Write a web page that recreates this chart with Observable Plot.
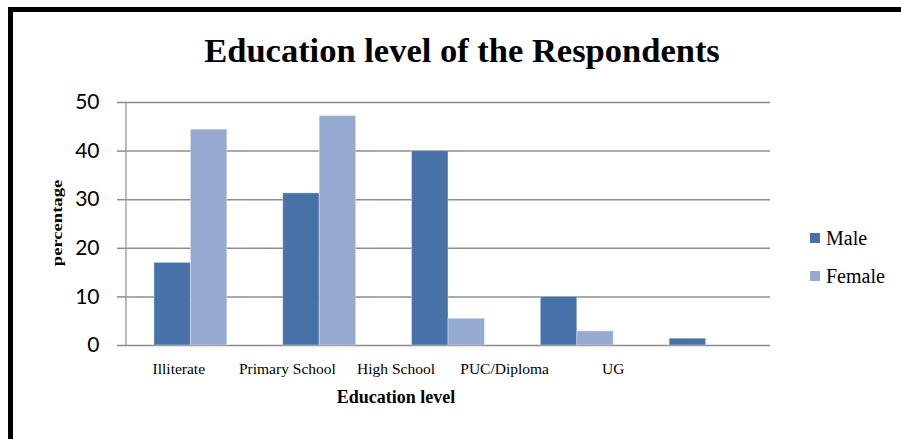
<!DOCTYPE html>
<html>
<head>
<meta charset="utf-8">
<script src="https://cdn.jsdelivr.net/npm/d3@7"></script>
<script src="https://cdn.jsdelivr.net/npm/@observablehq/plot@0.6"></script>
<style>
  html, body { margin: 0; padding: 0; background: #fff; overflow: hidden; }
  #chart { position: relative; width: 901px; height: 439px; overflow: hidden; background: #fff; }
  #border { position: absolute; left: 8px; top: 7px; width: 1000px; height: 1000px; border: 5px solid #000; }
  #plot, #labels { position: absolute; left: 0; top: 0; }
  .serif { font-family: "Liberation Serif", "Times New Roman", serif; color: #000; }
  #title { position: absolute; left: 462px; top: 33px; transform: translateX(-50%); font-size: 34.5px; font-weight: bold; line-height: 1; white-space: nowrap; }
  #xlabel { position: absolute; left: 396px; top: 388px; transform: translateX(-50%); font-size: 18px; font-weight: bold; line-height: 1; white-space: nowrap; }
  #ylabel { position: absolute; left: 57px; top: 223px; transform: translate(-50%, -50%) rotate(-90deg) scaleX(1.24); font-size: 15px; font-weight: bold; line-height: 1; white-space: nowrap; }
  #legend { position: absolute; left: 805px; top: 220px; }
</style>
</head>
<body>
<div id="chart">
  <div id="border"></div>
  <div id="plot"></div>
  <div id="labels"></div>
  <div id="title" class="serif">Education level of the Respondents</div>
  <div id="xlabel" class="serif">Education level</div>
  <div id="ylabel" class="serif">percentage</div>
  <div id="legend"></div>
</div>
<script>
// Share of respondents (%) at each education level, by gender
const categories = ["Illiterate", "Primary School", "High School", "PUC/Diploma", "UG"];
const male = [17.0, 31.3, 40.0, 10.0, 1.4];
const female = [44.4, 47.2, 5.5, 2.9, 0];
const yTicks = [0, 10, 20, 30, 40, 50];
const seriesNames = ["Male", "Female"];
const seriesColors = ["#4672a8", "#95a9d1"];

const rows = categories.map((c, i) => ({category: c, male: male[i], female: female[i]}));

// Layout
const W = 901, H = 439;
const margin = {top: 102, right: 131, bottom: 94, left: 126};
const padInner = 0.434, padOuter = 0.217;
const step = (W - margin.left - margin.right) / (categories.length - padInner + 2 * padOuter);
const half = step * (1 - padInner) / 2; // each gender takes half of a category band

const gridColor = "#8c8c8c";
const serif = "'Liberation Serif', 'Times New Roman', serif";

// Vertical axis line along the left edge of the frame
const leftAxisLine = (index, scales, values, dims) => {
  const l = dims.marginLeft;
  return d3.create("svg:line")
    .attr("x1", l).attr("x2", l)
    .attr("y1", dims.marginTop).attr("y2", dims.height - dims.marginBottom)
    .attr("stroke", "#a6a6a6").attr("stroke-width", 1.5)
    .node();
};

const chart = Plot.plot({
  width: W,
  height: H,
  marginTop: margin.top,
  marginRight: margin.right,
  marginBottom: margin.bottom,
  marginLeft: margin.left,
  style: {background: "transparent", overflow: "visible"},
  x: {domain: categories, paddingInner: padInner, paddingOuter: padOuter, round: false, axis: null},
  y: {domain: [0, 50]},
  marks: [
    Plot.ruleY(yTicks, {stroke: gridColor, strokeWidth: 1.5}),
    leftAxisLine,
    Plot.axisY({
      ticks: yTicks, tickSize: 9, tickPadding: 18,
      stroke: gridColor, strokeWidth: 1.5, fill: "#000",
      fontSize: 21, fontFamily: "Lato, 'Open Sans', sans-serif",
      label: null
    }),
    Plot.barY(rows, {x: "category", y: "male", fill: seriesColors[0], insetRight: half,
      stroke: "#ffffff", strokeOpacity: 0.35, strokeWidth: 1}),
    Plot.barY(rows, {x: "category", y: "female", fill: seriesColors[1], insetLeft: half,
      stroke: "#ffffff", strokeOpacity: 0.35, strokeWidth: 1})
  ]
});
document.getElementById("plot").appendChild(chart);

// Category labels sit on their own evenly spaced band axis, narrower than the bars' frame
const labelAxis = Plot.plot({
  width: W,
  height: H,
  marginTop: margin.top,
  marginRight: 234,
  marginBottom: margin.bottom,
  marginLeft: 124,
  style: {background: "transparent", overflow: "visible"},
  x: {type: "band", domain: categories, padding: 0, round: false},
  marks: [
    Plot.axisX({
      tickSize: 0, tickPadding: 17,
      fill: "#000", fontSize: 15.5, fontFamily: serif,
      label: null
    })
  ]
});
document.getElementById("labels").appendChild(labelAxis);

// Legend: one square swatch and name per series
const rowGap = 38;
const legendSvg = d3.select("#legend").append("svg")
  .attr("width", 96).attr("height", 80)
  .style("display", "block").style("overflow", "visible");
const item = legendSvg.selectAll("g").data(seriesNames).join("g")
  .attr("transform", (d, i) => `translate(0,${18 + i * rowGap})`);
item.append("rect")
  .attr("x", 5).attr("y", -5).attr("width", 10).attr("height", 10)
  .attr("fill", (d, i) => seriesColors[i]);
item.append("text")
  .attr("x", 21).attr("dy", "0.35em")
  .attr("font-family", serif).attr("font-size", 20).attr("fill", "#000")
  .text(d => d);
</script>
</body>
</html>
